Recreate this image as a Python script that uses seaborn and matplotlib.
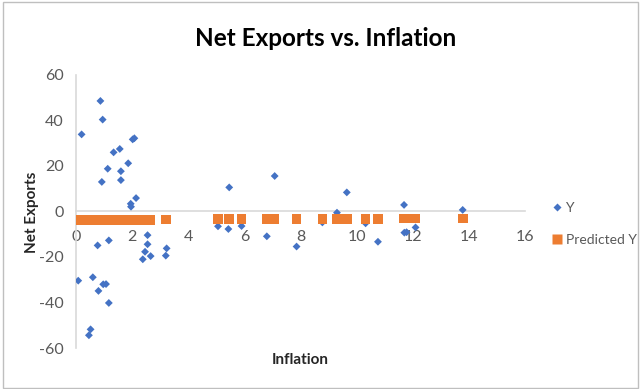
import matplotlib
matplotlib.use("Agg")
import matplotlib.pyplot as plt
import seaborn as sns
import pandas as pd
from matplotlib.patches import Rectangle
from matplotlib.lines import Line2D

# Inflation (x) and net exports (Y) observations
inflation = [0.08, 0.20, 0.46, 0.52, 0.60, 0.77, 0.80, 0.87, 0.92, 0.95,
             0.97, 1.07, 1.13, 1.17, 1.17, 1.34, 1.56, 1.60, 1.60, 1.86,
             1.95, 1.96, 2.02, 2.08, 2.14, 2.38, 2.46, 2.55, 2.55, 2.66,
             3.20, 3.23, 5.06, 5.43, 5.46, 5.90, 6.80, 7.08, 7.86, 8.78,
             9.30, 9.65, 10.32, 10.76, 11.69, 11.70, 11.78, 12.10, 13.78]
net_exports = [-30.4, 33.9, -54.4, -51.8, -28.9, -14.9, -34.9, 48.6, 13.0, 40.4,
               -32.0, -31.9, 18.8, -12.7, -40.2, 26.0, 27.5, 17.7, 13.8, 21.2,
               3.4, 2.1, 31.7, 32.2, 5.9, -21.0, -17.7, -10.4, -14.4, -19.6,
               -19.4, -16.2, -6.5, -7.7, 10.6, -6.4, -10.9, 15.6, -15.4, -4.8,
               -0.5, 8.4, -5.2, -13.3, 2.9, -9.3, -9.1, -7.0, 0.7]
predicted_y = [-3.7, -3.7, -3.7, -3.7, -3.7, -3.7, -3.7, -3.7, -3.7, -3.7,
               -3.7, -3.6, -3.6, -3.6, -3.6, -3.6, -3.6, -3.6, -3.6, -3.6,
               -3.6, -3.6, -3.6, -3.6, -3.6, -3.6, -3.6, -3.6, -3.6, -3.6,
               -3.5, -3.5, -3.4, -3.4, -3.4, -3.4, -3.4, -3.3, -3.3, -3.3,
               -3.2, -3.2, -3.2, -3.2, -3.1, -3.1, -3.1, -3.1, -3.0]

x_ticks = [0, 2, 4, 6, 8, 10, 12, 14, 16]
y_ticks = [-60, -40, -20, 0, 20, 40, 60]

df = pd.DataFrame({"Inflation": inflation, "Y": net_exports,
                   "Predicted Y": predicted_y})

sns.set_style("white")
plt.rcParams["font.family"] = ["Lato", "DejaVu Sans"]
plt.rcParams["axes.unicode_minus"] = False

BLUE = "#4472C4"
ORANGE = "#ED7D31"
AXIS_GRAY = "#D9D9D9"
TEXT_GRAY = "#595959"

fig = plt.figure(figsize=(6.41, 3.89), dpi=100)
ax = fig.add_axes([76 / 641, 1 - 348 / 389, (525 - 76) / 641, (348 - 75) / 389])

sns.scatterplot(data=df, x="Inflation", y="Y", marker="D", s=16, color=BLUE,
                edgecolor="none", ax=ax, zorder=3, legend=False)
sns.scatterplot(data=df, x="Inflation", y="Predicted Y", marker="s", s=48,
                color=ORANGE, edgecolor="none", ax=ax, zorder=4, legend=False)

ax.set_xlim(0, 16)
ax.set_ylim(-60, 60)
ax.set_xticks(x_ticks)
ax.set_yticks(y_ticks)

for side in ("top", "right"):
    ax.spines[side].set_visible(False)
ax.spines["bottom"].set_position(("data", 0))
for side in ("left", "bottom"):
    ax.spines[side].set_color(AXIS_GRAY)
    ax.spines[side].set_linewidth(1.2)

ax.tick_params(axis="both", which="major", direction="out", length=4,
               width=1, color=AXIS_GRAY, labelcolor=TEXT_GRAY, labelsize=11.5)
ax.tick_params(axis="x", pad=9)
ax.tick_params(axis="y", pad=5)
ax.set_xlabel("")
ax.set_ylabel("")

fig.text(300 / 641, 1 - 360 / 389, "Inflation", ha="center", va="center",
         fontsize=11, fontweight="bold", color="#262626")
fig.text(32 / 641, 1 - 212 / 389, "Net Exports", ha="center", va="center",
         rotation=90, fontsize=11, fontweight="bold", color="#262626")
fig.text(326 / 641, 1 - 38 / 389, "Net Exports vs. Inflation", ha="center",
         va="center", fontsize=17.5, fontweight="bold", color="black")

handles = [
    Line2D([], [], linestyle="none", marker="D", markersize=4.2,
           markerfacecolor=BLUE, markeredgecolor="none", label="Y"),
    Line2D([], [], linestyle="none", marker="s", markersize=6.5,
           markerfacecolor=ORANGE, markeredgecolor="none", label="Predicted Y"),
]
fig.legend(handles=handles, loc="center left",
           bbox_to_anchor=(553 / 641, 1 - 224 / 389), frameon=False,
           fontsize=10, labelcolor=TEXT_GRAY, handlelength=0.6,
           handletextpad=0.3, labelspacing=1.4, borderaxespad=0,
           borderpad=0)

fig.patches.append(Rectangle((3 / 641, 1 / 389), 635 / 641, 386 / 389,
                             transform=fig.transFigure, fill=False,
                             edgecolor="#BFBFBF", linewidth=1))

fig.savefig("out.png", dpi=100)
